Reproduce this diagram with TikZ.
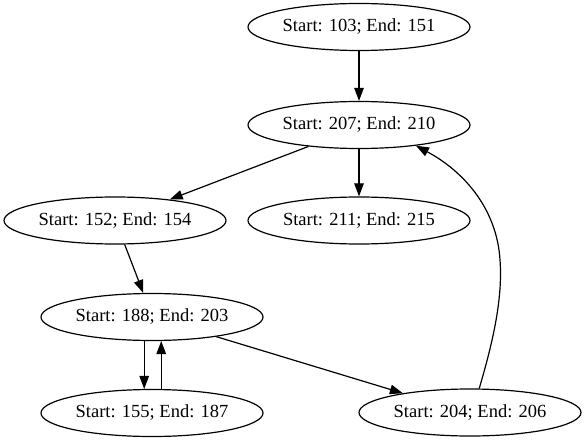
\documentclass[tikz,border=0pt]{standalone}
\usepackage{fontspec}
\setmainfont{Liberation Serif}
\usetikzlibrary{shapes.geometric,arrows.meta}
\tikzset{
  nd/.style={draw, ellipse, line width=1.2pt, minimum width=222pt, minimum height=47pt, inner sep=0pt,
    font=\fontsize{18.5}{20}\selectfont},
  edge/.style={line width=1.2pt, -{Triangle[length=13pt,width=9.5pt]}}
}
\begin{document}
\begin{tikzpicture}[x=1pt,y=-1pt]
\useasboundingbox (0,0) rectangle (585,443);
\node[nd] (A) at (359,27) {Start: 103; End: 151};
\node[nd] (B) at (359,125) {Start: 207; End: 210};
\node[nd] (C) at (115,220.5) {Start: 152; End: 154};
\node[nd] (D) at (359,220.5) {Start: 211; End: 215};
\node[nd] (E) at (152,317) {Start: 188; End: 203};
\node[nd] (F) at (152,413) {Start: 155; End: 187};
\node[nd] (G) at (470,412.5) {Start: 204; End: 206};
\draw[edge] (A.south) -- (B.north);
\draw[edge] (B.south) -- (D.north);
\draw[edge] (B.203) -- (C.21);
\draw[edge] (C.292) -- (E.110);
\draw[edge] (E.252) -- (F.108);
\draw[edge] (F.69) -- (E.291);
\draw[edge] (E.343) -- (G.164);
\draw[edge] (G.69) .. controls (492,345) and (503,300) .. (500,260)
  .. controls (497,210) and (465,172) .. (B.340);
\end{tikzpicture}
\end{document}
